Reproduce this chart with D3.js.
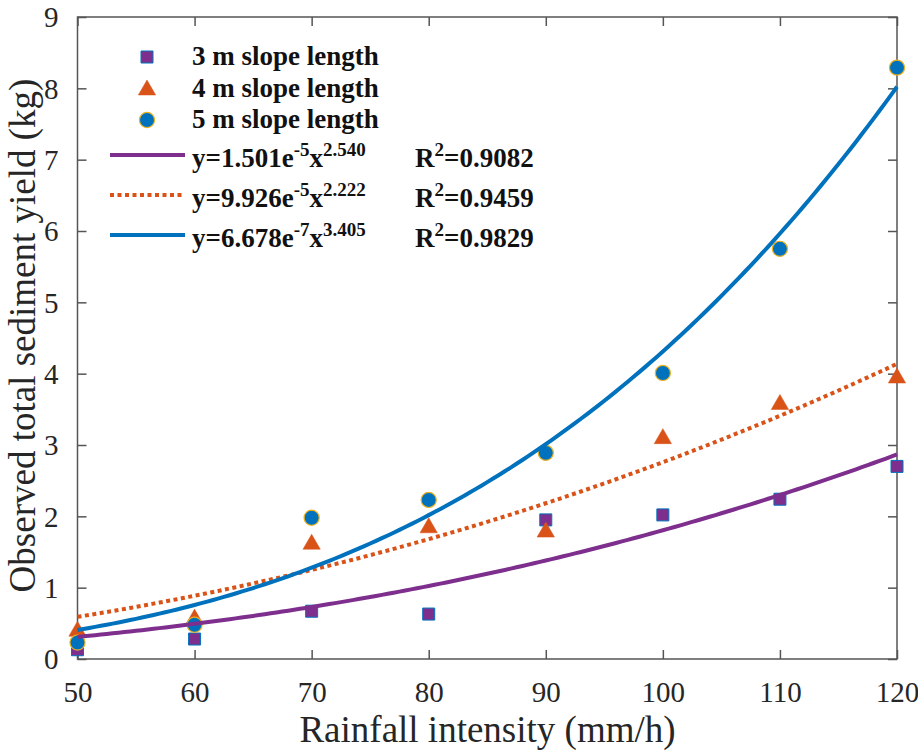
<!DOCTYPE html>
<html><head><meta charset="utf-8">
<script src="https://cdn.jsdelivr.net/npm/d3@7"></script>
<style>
body{margin:0;background:#fff;}
svg{display:block;}
svg text{font-family:"Liberation Serif","Tinos","Times New Roman","Times","Nimbus Roman","DejaVu Serif",serif !important;}
</style></head>
<body><svg id="c" width="918" height="751"></svg>
<script>
const rainfall = [50, 60, 70, 80, 90, 100, 110, 120];
const slope3m = [0.13, 0.28, 0.67, 0.63, 1.95, 2.02, 2.24, 2.70];
const slope4m = [0.41, 0.58, 1.63, 1.86, 1.80, 3.11, 3.59, 3.96];
const slope5m = [0.23, 0.48, 1.98, 2.23, 2.89, 4.01, 5.75, 8.29];
const fitCoefA = [1.501e-5, 9.926e-5, 6.678e-7];
const fitCoefB = [2.540, 2.222, 3.405];
const fitR2 = ["0.9082", "0.9459", "0.9829"];
const seriesNames = ["3 m slope length", "4 m slope length", "5 m slope length"];
const xTicks = [50, 60, 70, 80, 90, 100, 110, 120];
const yTicks = [0, 1, 2, 3, 4, 5, 6, 7, 8, 9];

const FONT = '"Liberation Serif","Tinos","Times New Roman",Times,"Nimbus Roman","DejaVu Serif",serif';
const svg = d3.select("#c");
const L = 77.5, R = 897, T = 17, B = 659;
const x = d3.scaleLinear().domain([50, 120]).range([L, R]);
const y = d3.scaleLinear().domain([0, 9]).range([B, T]);
const axisCol = "#555";
const tickLen = 9;

const gx = svg.append("g").attr("transform", `translate(0,${B})`)
  .call(d3.axisBottom(x).tickValues(xTicks).tickSizeInner(-tickLen).tickSizeOuter(0).tickPadding(22));
const gxt = svg.append("g").attr("transform", `translate(0,${T})`)
  .call(d3.axisTop(x).tickValues(xTicks).tickSizeInner(-tickLen).tickSizeOuter(0).tickFormat(""));
const gy = svg.append("g").attr("transform", `translate(${L},0)`)
  .call(d3.axisLeft(y).tickValues(yTicks).tickSizeInner(-tickLen).tickSizeOuter(0).tickPadding(19));
const gyr = svg.append("g").attr("transform", `translate(${R},0)`)
  .call(d3.axisRight(y).tickValues(yTicks).tickSizeInner(-tickLen).tickSizeOuter(0).tickFormat(""));
[gx, gxt, gy, gyr].forEach(g => {
  g.attr("font-family", FONT);
  g.select(".domain").remove();
  g.selectAll(".tick line").attr("stroke", axisCol).attr("stroke-width", 1.5);
  g.selectAll(".tick text").attr("font-size", 29).attr("fill", "#262626").attr("font-family", FONT);
});
gy.selectAll(".tick text").attr("dy", "0.34em");
gx.selectAll(".tick text").attr("dy", "0.71em");
svg.append("rect").attr("x", L).attr("y", T).attr("width", R - L).attr("height", B - T)
  .attr("fill", "none").attr("stroke", axisCol).attr("stroke-width", 1.5);

svg.append("text").attr("x", 487.5).attr("y", 742).attr("text-anchor", "middle").attr("font-family", FONT)
  .attr("font-size", 37).attr("fill", "#262626").text("Rainfall intensity (mm/h)");
svg.append("text").attr("transform", "translate(35,335.5) rotate(-90)").attr("text-anchor", "middle").attr("font-family", FONT)
  .attr("font-size", 37).attr("fill", "#262626").text("Observed total sediment yield (kg)");

const col3 = "#7E2F8E", col4 = "#D95319", col5 = "#0072BD", edge5 = "#EDB120";
const sq = d3.symbol().type(d3.symbolSquare).size(144);
const tri = d3.symbol().type(d3.symbolTriangle).size(130);
const circ = d3.symbol().type(d3.symbolCircle).size(180);

function drawMarkers(vals, sym, fill, stroke, sw, dyOff) {
  svg.append("g").selectAll("path").data(vals).join("path")
    .attr("d", sym)
    .attr("transform", (d, i) => `translate(${x(rainfall[i])},${y(d) + dyOff})`)
    .attr("fill", fill).attr("stroke", stroke).attr("stroke-width", sw);
}
drawMarkers(slope3m, sq, col3, col5, 1, 0);
drawMarkers(slope4m, tri, col4, col4, 0.5, 1.5);
drawMarkers(slope5m, circ, col5, edge5, 1.2, 0);

const xs = d3.range(50, 120.001, 0.5);
const line = d3.line().x(d => x(d[0])).y(d => y(d[1]));
const fitStyles = [
  {color: col3, dash: null},
  {color: col4, dash: "4,3.5"},
  {color: col5, dash: null}
];
fitCoefA.forEach((a, k) => {
  const pts = xs.map(v => [v, a * Math.pow(v, fitCoefB[k])]);
  svg.append("path").datum(pts).attr("d", line).attr("fill", "none")
    .attr("stroke", fitStyles[k].color).attr("stroke-width", 4)
    .attr("stroke-dasharray", fitStyles[k].dash);
});

const lg = svg.append("g").attr("font-family", FONT);
const mRows = [57, 88.5, 120];
const mSyms = [[sq, col3, col5, 1], [tri, col4, col4, 0.5], [circ, col5, edge5, 1.2]];
mRows.forEach((yy, i) => {
  lg.append("path").attr("d", mSyms[i][0]).attr("transform", `translate(147,${yy + (i === 1 ? 1.5 : 0)})`)
    .attr("fill", mSyms[i][1]).attr("stroke", mSyms[i][2]).attr("stroke-width", mSyms[i][3]);
  lg.append("text").attr("x", 192).attr("y", yy + 8).attr("font-size", 27).attr("font-weight", "bold")
    .attr("font-family", FONT).attr("fill", "#111").text(seriesNames[i]);
});
const eRows = [155, 195, 235];
const mant = ["1.501", "9.926", "6.678"];
const expo = ["-5", "-5", "-7"];
const powr = ["2.540", "2.222", "3.405"];
eRows.forEach((yy, i) => {
  lg.append("line").attr("x1", 110).attr("x2", 185).attr("y1", yy).attr("y2", yy)
    .attr("stroke", fitStyles[i].color).attr("stroke-width", 4)
    .attr("stroke-dasharray", fitStyles[i].dash);
  const t = lg.append("text").attr("x", 192).attr("y", yy + 12).attr("font-size", 27)
    .attr("font-weight", "bold").attr("font-family", FONT).attr("fill", "#111");
  t.append("tspan").text(`y=${mant[i]}e`);
  t.append("tspan").attr("dy", -11).attr("font-size", 19).text(expo[i]);
  t.append("tspan").attr("dy", 11).text("x");
  t.append("tspan").attr("dy", -11).attr("font-size", 19).text(powr[i]);
  const r = lg.append("text").attr("x", 415).attr("y", yy + 12).attr("font-size", 27)
    .attr("font-weight", "bold").attr("font-family", FONT).attr("fill", "#111");
  r.append("tspan").text("R");
  r.append("tspan").attr("dy", -11).attr("font-size", 19).text("2");
  r.append("tspan").attr("dy", 11).text(`=${fitR2[i]}`);
});
</script></body></html>
